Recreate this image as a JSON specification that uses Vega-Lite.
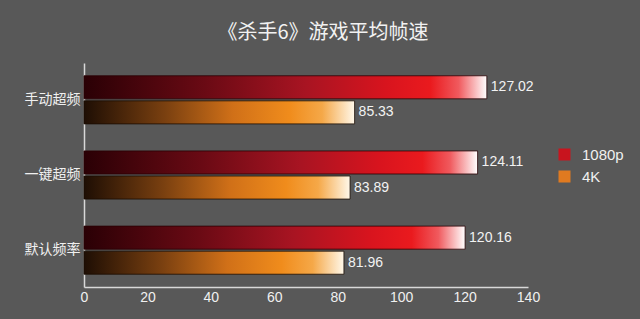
{
  "$schema": "https://vega.github.io/schema/vega-lite/v6.json",
  "autosize": "none",
  "width": 444,
  "height": 224,
  "padding": {"left": 84, "top": 63, "right": 112, "bottom": 32},
  "background": "#585858",
  "title": {
    "text": "《杀手6》游戏平均帧速",
    "anchor": "middle",
    "frame": "group",
    "dx": 17,
    "offset": 20,
    "fontSize": 20,
    "fontWeight": "normal",
    "font": "Noto Sans CJK SC",
    "color": "#f2f2f2"
  },
  "config": {
    "view": {"stroke": null},
    "axis": {"grid": false, "ticks": false, "domainColor": "#d8d8d8", "domainWidth": 1.5, "labelColor": "#f0f0f0", "title": null}
  },
  "data": {
    "values": [
      {"cat": "手动超频", "series": "1080p", "value": 127.02},
      {"cat": "手动超频", "series": "4K", "value": 85.33},
      {"cat": "一键超频", "series": "1080p", "value": 124.11},
      {"cat": "一键超频", "series": "4K", "value": 83.89},
      {"cat": "默认频率", "series": "1080p", "value": 120.16},
      {"cat": "默认频率", "series": "4K", "value": 81.96}
    ]
  },
  "encoding": {
    "y": {
      "field": "cat", "type": "nominal",
      "sort": ["手动超频", "一键超频", "默认频率"],
      "scale": {"paddingInner": 0.36, "paddingOuter": 0.17},
      "axis": {"labelFontSize": 14, "labelFont": "Noto Sans CJK SC", "labelPadding": 4}
    },
    "yOffset": {
      "field": "series", "type": "nominal",
      "scale": {"domain": ["1080p", "4K"], "paddingInner": 0.08}
    },
    "x": {
      "field": "value", "type": "quantitative",
      "scale": {"domain": [0, 140], "nice": false},
      "axis": {"values": [0, 20, 40, 60, 80, 100, 120, 140], "labelFontSize": 14, "labelFont": "Liberation Sans", "labelPadding": 3, "labelFlush": false}
    }
  },
  "layer": [
    {
      "transform": [{"filter": "datum.series === '1080p'"}],
      "mark": {
        "type": "bar",
        "stroke": "#2a0004",
        "strokeWidth": 0.8,
        "fill": {
          "gradient": "linear", "x1": 0, "y1": 0, "x2": 1, "y2": 0,
          "stops": [
            {"offset": 0, "color": "#2a0005"},
            {"offset": 0.3, "color": "#6a0a14"},
            {"offset": 0.55, "color": "#a81422"},
            {"offset": 0.75, "color": "#d8141e"},
            {"offset": 0.86, "color": "#ea1a1e"},
            {"offset": 0.93, "color": "#f05a5e"},
            {"offset": 1, "color": "#ffffff"}
          ]
        }
      }
    },
    {
      "transform": [{"filter": "datum.series === '4K'"}],
      "mark": {
        "type": "bar",
        "stroke": "#1a0c02",
        "strokeWidth": 0.8,
        "fill": {
          "gradient": "linear", "x1": 0, "y1": 0, "x2": 1, "y2": 0,
          "stops": [
            {"offset": 0, "color": "#1e0e04"},
            {"offset": 0.3, "color": "#7a4010"},
            {"offset": 0.55, "color": "#d07018"},
            {"offset": 0.76, "color": "#f08c1c"},
            {"offset": 0.88, "color": "#f5a848"},
            {"offset": 1, "color": "#fff8ea"}
          ]
        }
      }
    },
    {
      "mark": {"type": "square", "opacity": 0},
      "encoding": {
        "color": {
          "field": "series", "type": "nominal",
          "scale": {"domain": ["1080p", "4K"], "range": ["#c8141e", "#e07a20"]},
          "legend": {
            "title": null, "orient": "none", "legendX": 473, "legendY": 84,
            "symbolType": "square", "symbolSize": 144, "symbolOpacity": 1, "symbolStrokeWidth": 0,
            "labelFontSize": 15, "labelFont": "Liberation Sans", "labelColor": "#f0f0f0",
            "rowPadding": 6, "labelOffset": 10
          }
        }
      }
    },
    {
      "mark": {"type": "text", "align": "left", "dx": 4, "fontSize": 14, "font": "Liberation Sans", "color": "#f2f2f2"},
      "encoding": {"text": {"field": "value", "type": "quantitative", "format": ".2f"}}
    }
  ]
}
